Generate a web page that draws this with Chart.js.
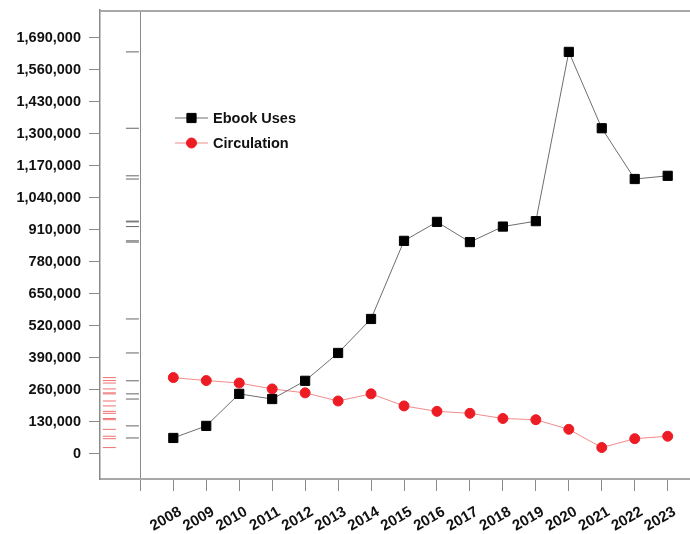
<!DOCTYPE html>
<html>
<head>
<meta charset="utf-8">
<script src="https://cdn.jsdelivr.net/npm/chart.js@4/dist/chart.umd.min.js"></script>
<style>
  html, body { margin: 0; padding: 0; background: #fff; }
  #wrap { width: 690px; height: 534px; }
</style>
</head>
<body>
<div id="wrap"><canvas id="chart" width="690" height="534"></canvas></div>
<script>
// =================== DATA ===================
const years = [2008, 2009, 2010, 2011, 2012, 2013, 2014, 2015, 2016, 2017, 2018, 2019, 2020, 2021, 2022, 2023];
const ebookUses = [65000, 114000, 244000, 223000, 297000, 410000, 548000, 865000, 942000, 860000, 923000, 945000, 1632000, 1322000, 1116000, 1129000];
const circulation = [310000, 298000, 288000, 264000, 248000, 215000, 244000, 195000, 173000, 165000, 144000, 139000, 100000, 26000, 62000, 72000];
const yTicks = [0, 130000, 260000, 390000, 520000, 650000, 780000, 910000, 1040000, 1170000, 1300000, 1430000, 1560000, 1690000];
const xTicks = [2007].concat(years); // 2007 = divider between rug strip and plot

// rug strip positions (x, in year units)
const RUG_RED_X = 2006.06;
const RUG_BLACK_X = 2006.76;

const toPoints = (vals) => vals.map((v, i) => ({ x: years[i], y: v }));
const toRug = (vals, x) => vals.map(v => ({ x: x, y: v }));

// no automatic label padding, the frame has to sit at fixed edges
function noPadding(scale) {
  scale.paddingLeft = 0;
  scale.paddingRight = 0;
  scale.paddingTop = 0;
  scale.paddingBottom = 0;
}

// =================== PLUGINS ===================
const framePlugin = {
  id: "frame",
  beforeDatasetsDraw(chart) {
    const { ctx, chartArea } = chart;
    ctx.save();
    ctx.strokeStyle = "#a8a8a8";
    ctx.lineWidth = 2;
    ctx.beginPath();
    ctx.moveTo(chartArea.left, chartArea.top + 1);
    ctx.lineTo(chartArea.right, chartArea.top + 1);
    ctx.stroke();
    ctx.restore();
  }
};

const legendPlugin = {
  id: "innerLegend",
  afterDraw(chart) {
    const { ctx, chartArea } = chart;
    const items = [0, 1].map(i => chart.data.datasets[i]);
    ctx.save();
    ctx.font = "bold 14.5px 'Liberation Sans', Arial, sans-serif";
    ctx.textBaseline = "middle";
    items.forEach((ds, i) => {
      const x0 = chartArea.left + 75;
      const y = chartArea.top + 108 + i * 25;
      ctx.strokeStyle = ds.borderColor;
      ctx.lineWidth = 1;
      ctx.beginPath();
      ctx.moveTo(x0, y);
      ctx.lineTo(x0 + 33, y);
      ctx.stroke();
      ctx.fillStyle = ds.pointBackgroundColor;
      ctx.strokeStyle = ds.pointBorderColor;
      Chart.helpers.drawPoint(ctx, {
        pointStyle: ds.pointStyle,
        radius: ds.pointRadius,
        borderWidth: ds.pointBorderWidth,
        rotation: 0
      }, x0 + 16.5, y);
      ctx.fillStyle = "#111";
      ctx.fillText(ds.label, x0 + 38, y + 1);
    });
    ctx.restore();
  }
};

// =================== CHART ===================
new Chart(document.getElementById("chart"), {
  type: "line",
  data: {
    datasets: [
      {
        label: "Ebook Uses",
        data: toPoints(ebookUses),
        borderColor: "#6e6e6e",
        borderWidth: 1,
        pointStyle: "rect",
        pointRadius: 6.5,
        pointBackgroundColor: "#000",
        pointBorderColor: "#000",
        pointBorderWidth: 1
      },
      {
        label: "Circulation",
        data: toPoints(circulation),
        borderColor: "#f28a8a",
        borderWidth: 1,
        pointStyle: "circle",
        pointRadius: 5,
        pointBackgroundColor: "#ed1c24",
        pointBorderColor: "#ed1c24",
        pointBorderWidth: 1
      },
      {
        label: "rug-ebook",
        data: toRug(ebookUses, RUG_BLACK_X),
        showLine: false,
        pointStyle: "line",
        pointRadius: 6.5,
        pointBorderColor: "#666",
        pointBorderWidth: 1
      },
      {
        label: "rug-circ",
        data: toRug(circulation, RUG_RED_X),
        showLine: false,
        pointStyle: "line",
        pointRadius: 6.5,
        pointBorderColor: "#f07070",
        pointBorderWidth: 1
      }
    ]
  },
  options: {
    responsive: false,
    animation: false,
    layout: { autoPadding: false, padding: { top: 10, right: 0, left: 0, bottom: 0 } },
    plugins: {
      legend: { display: false },
      tooltip: { enabled: false }
    },
    scales: {
      x: {
        type: "linear",
        min: 2005.776,
        max: 2023.677,
        afterBuildTicks: (scale) => { scale.ticks = xTicks.map(v => ({ value: v })); },
        afterFit: (scale) => { scale.height = 55; noPadding(scale); },
        border: { display: true, color: "#a8a8a8", width: 2 },
        grid: {
          color: (c) => (c.tick && c.tick.value === 2007 ? "#8a8a8a" : "rgba(0,0,0,0)"),
          tickColor: "#8a8a8a",
          tickLength: 12,
          lineWidth: 1
        },
        ticks: {
          autoSkip: false,
          maxRotation: 30,
          minRotation: 30,
          padding: 12,
          labelOffset: 7,
          color: "#111",
          font: { family: "'Liberation Sans', Arial, sans-serif", size: 15, weight: "bold" },
          callback: (v) => (v === 2007 ? "" : String(v))
        }
      },
      y: {
        type: "linear",
        min: -101563,
        max: 1802000,
        afterBuildTicks: (scale) => { scale.ticks = yTicks.map(v => ({ value: v })); },
        afterFit: (scale) => { scale.width = 100; noPadding(scale); },
        border: { display: true, color: "#8a8a8a", width: 1.5 },
        grid: {
          drawOnChartArea: false,
          drawTicks: true,
          tickLength: 11,
          tickColor: "#8a8a8a"
        },
        ticks: {
          padding: 8,
          color: "#111",
          font: { family: "'Liberation Sans', Arial, sans-serif", size: 14.5, weight: "bold" },
          callback: (v) => Number(v).toLocaleString("en-US")
        }
      }
    }
  },
  plugins: [framePlugin, legendPlugin]
});
</script>
</body>
</html>
